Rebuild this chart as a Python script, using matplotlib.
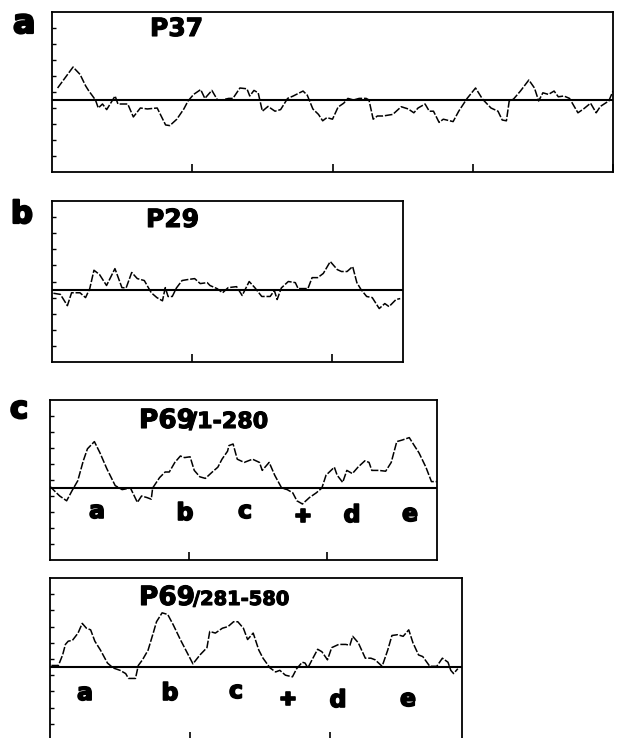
import matplotlib
matplotlib.use("Agg")
import matplotlib.pyplot as plt
import matplotlib.patheffects as pe
import numpy as np

plt.rcParams['font.family'] = ['DejaVu Sans']

W, H = 617, 738

# hydropathy profiles (x = residue, y = tick units)
p37_res = [4, 15, 20, 24, 26, 31, 33, 36, 39, 45, 47, 54, 58, 63, 68, 75, 81, 84, 89, 94,
           97, 101, 106, 109, 114, 118, 121, 126, 129, 134, 139, 141, 144, 147, 150, 154, 159, 163, 168, 172,
           179, 182, 186, 190, 193, 196, 200, 204, 208, 211, 215, 219, 224, 226, 229, 232, 236, 243, 249, 254,
           258, 261, 266, 269, 272, 276, 279, 286, 290, 296, 302, 307, 313, 318, 321, 324, 326, 329, 334, 340,
           344, 347, 350, 354, 358, 361, 365, 369, 375, 379, 384, 388, 391, 397, 400]
p37_val = [0.75, 2.06, 1.6, 0.88, 0.6, 0.0, -0.5, -0.25, -0.6, 0.25, -0.25, -0.25, -1.06, -0.5, -0.56, -0.5, -1.56, -1.6, -1.2, -0.56,
           -0.06, 0.35, 0.65, 0.1, 0.6, 0.0, 0.0, 0.1, 0.1, 0.75, 0.7, 0.25, 0.6, 0.45, -0.7, -0.4, -0.7, -0.6, 0.1, 0.25,
           0.56, 0.3, -0.56, -0.9, -1.3, -1.1, -1.2, -0.44, -0.2, 0.1, 0.0, 0.1, 0.1, 0.0, -1.2, -1.0, -1.0, -0.9, -0.42, -0.56,
           -0.8, -0.5, -0.25, -0.7, -0.7, -1.4, -1.2, -1.35, -0.7, 0.1, 0.75, 0.05, -0.5, -0.7, -1.25, -1.3, -0.06, 0.05, 0.56, 1.25,
           0.75, -0.06, 0.45, 0.35, 0.56, 0.2, 0.25, 0.1, -0.8, -0.56, -0.2, -0.8, -0.4, -0.06, 0.56]

p29_res = [1, 6, 11, 14, 20, 24, 27, 30, 34, 39, 45, 50, 53, 57, 61, 66, 71, 75, 79, 81,
           83, 86, 89, 93, 97, 102, 106, 111, 113, 118, 122, 126, 132, 136, 141, 145, 150, 156, 159, 161,
           164, 169, 174, 176, 183, 186, 190, 194, 199, 204, 207, 211, 215, 218, 221, 225, 229, 234, 238, 241,
           246, 249]
p29_val = [-0.23, -0.3, -1.0, -0.2, -0.2, -0.5, 0.06, 1.2, 0.93, 0.25, 1.3, 0.12, 0.1, 1.06, 0.68, 0.56, -0.2, -0.5, -0.7, 0.12,
           -0.43, -0.43, 0.1, 0.56, 0.62, 0.68, 0.37, 0.43, 0.25, 0.06, -0.2, 0.12, 0.18, -0.37, 0.5, 0.12, -0.43, -0.43, -0.06, -0.62,
           0.1, 0.5, 0.43, 0.06, 0.06, 0.74, 0.74, 1.0, 1.74, 1.24, 1.12, 1.12, 1.43, 0.43, 0.0, -0.43, -0.5, -1.18, -0.87, -1.06,
           -0.62, -0.56]

p69a_res = [0, 4, 7, 12, 16, 20, 24, 27, 32, 36, 41, 47, 52, 58, 63, 66, 70, 73, 74, 79,
            83, 86, 90, 94, 97, 101, 104, 108, 112, 117, 121, 124, 128, 129, 132, 135, 140, 146, 151, 153,
            158, 162, 167, 171, 175, 178, 182, 187, 192, 196, 199, 205, 207, 211, 214, 218, 222, 227, 230, 232,
            237, 242, 246, 250, 254, 259, 263, 266, 271, 275, 279]
p69a_val = [0.1, -0.25, -0.5, -0.8, -0.15, 0.45, 1.7, 2.45, 2.9, 2.2, 1.2, 0.15, -0.1, 0.0, -0.9, -0.5, -0.6, -0.7, 0.0, 0.65,
            1.0, 1.0, 1.6, 2.0, 1.9, 1.95, 1.1, 0.7, 0.6, 1.0, 1.3, 1.8, 2.3, 2.65, 2.75, 1.8, 1.6, 1.8, 1.6, 1.1,
            1.6, 0.8, 0.0, -0.1, -0.3, -0.8, -1.0, -0.6, -0.3, 0.0, 0.8, 1.3, 0.8, 0.35, 1.1, 0.9, 1.3, 1.7, 1.6, 1.1,
            1.1, 1.05, 1.6, 2.9, 3.0, 3.15, 2.6, 2.2, 1.3, 0.4, 0.4]

p69b_res = [1, 6, 9, 11, 13, 16, 20, 23, 26, 29, 32, 36, 41, 45, 50, 54, 56, 61, 63, 66,
            70, 74, 76, 80, 84, 88, 93, 96, 102, 107, 112, 114, 118, 123, 127, 131, 134, 138, 141, 145,
            149, 152, 157, 161, 164, 168, 173, 176, 180, 182, 184, 187, 191, 194, 198, 201, 206, 211, 214, 216,
            220, 225, 229, 232, 237, 241, 244, 248, 252, 256, 259, 263, 266, 271, 276, 280, 284, 286, 288, 291]
p69b_val = [0.1, 0.1, 0.75, 1.4, 1.6, 1.65, 2.1, 2.7, 2.4, 2.3, 1.6, 1.05, 0.25, -0.05, -0.2, -0.4, -0.7, -0.7, 0.1, 0.45,
            1.05, 2.2, 2.8, 3.35, 3.25, 2.6, 1.7, 1.2, 0.2, 0.75, 1.2, 2.2, 2.1, 2.4, 2.5, 2.8, 2.8, 2.4, 1.7, 2.1,
            1.05, 0.55, -0.05, -0.3, -0.2, -0.5, -0.6, -0.1, 0.3, 0.25, -0.05, 0.45, 1.1, 0.95, 0.45, 1.2, 1.4, 1.4, 1.35, 1.9,
            1.5, 0.55, 0.55, 0.45, 0.05, 1.05, 1.95, 2.0, 1.9, 2.3, 1.5, 0.75, 0.65, 0.05, 0.05, 0.55, 0.3, -0.2, -0.4, -0.1]

domain_labels = ['a', 'b', 'c', '\u271a', 'd', 'e']


def px_axes(left, top, right, bottom):
    return fig.add_axes([left / W, 1 - bottom / H, (right - left) / W, (bottom - top) / H])


def profile(ax, res, val, xmax, xticks):
    ax.plot(res, val, color='black', lw=1.1, ls=(0, (5, 1.2)))
    ax.axhline(0, color='black', lw=1.5)
    ax.set_xlim(0, xmax)
    ax.set_ylim(-4.5, 5.5)
    ax.set_xticks(xticks)
    ax.set_yticks(np.arange(-3.5, 5.0, 1.0))
    ax.set_xticklabels([])
    ax.set_yticklabels([])
    ax.tick_params(axis='x', direction='in', length=6, width=1.2, color='black')
    ax.tick_params(axis='y', direction='in', length=3, width=1.0, color='black')
    for s in ax.spines.values():
        s.set_linewidth(1.3)
        s.set_color('black')


def ftext(x, y, s, size, heavy=0.8, **kw):
    fig.text(x / W, 1 - y / H, s, fontsize=size, fontweight='bold',
             path_effects=[pe.withStroke(linewidth=heavy, foreground='black')], **kw)


fig = plt.figure(figsize=(W / 100, H / 100), dpi=100)

ax_a = px_axes(52, 12, 613, 172)
profile(ax_a, p37_res, p37_val, 400, [100, 200, 300, 400])

ax_b = px_axes(52, 201, 403, 362)
profile(ax_b, p29_res, p29_val, 251, [100, 200])

ax_c1 = px_axes(50, 400, 437, 560)
profile(ax_c1, p69a_res, p69a_val, 279, [100, 200])

ax_c2 = px_axes(50, 578, 462, 740)
profile(ax_c2, p69b_res, p69b_val, 294, [100, 200])

# panel letters
ftext(13, 33, 'a', 24, heavy=1.6)
ftext(11, 223, 'b', 22, heavy=1.6)
ftext(10, 418, 'c', 22, heavy=1.6)

# panel titles
ftext(150, 36, 'P37', 18)
ftext(146, 227, 'P29', 18)
ftext(139, 428, 'P69', 19)
ftext(189, 428, '/1-280', 16)
ftext(139, 605, 'P69', 19)
ftext(193, 605, '/281-580', 14)

# domain labels under the P69 curves
c1_x = [97, 185, 245, 303, 352, 410]
c1_y = [518, 520, 518, 522, 522, 521]
c2_x = [85, 170, 236, 288, 338, 408]
c2_y = [700, 700, 698, 705, 707, 706]
for lab, x, y in zip(domain_labels, c1_x, c1_y):
    ftext(x, y, lab, 13 if lab == '\u271a' else 17, heavy=1.2, ha='center', va='baseline')
for lab, x, y in zip(domain_labels, c2_x, c2_y):
    ftext(x, y, lab, 13 if lab == '\u271a' else 17, heavy=1.2, ha='center', va='baseline')

fig.savefig('out.png', dpi=100)
